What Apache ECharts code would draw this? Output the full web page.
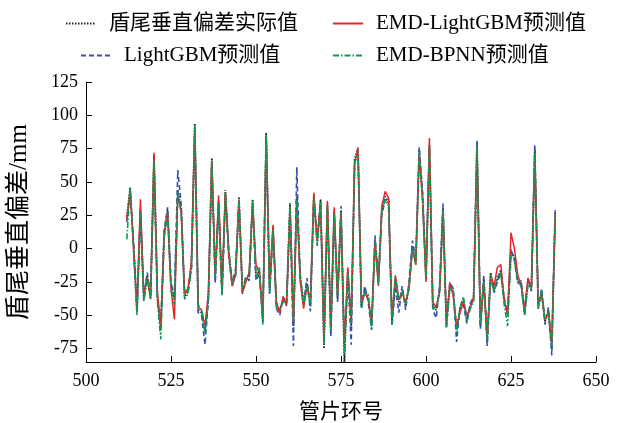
<!DOCTYPE html>
<html><head><meta charset="utf-8">
<script src="https://cdn.jsdelivr.net/npm/echarts@6/dist/echarts.min.js"></script>
<style>html,body{margin:0;padding:0;background:#fff}#c{width:626px;height:423px}</style>
</head><body><div id="c"></div>
<script>
const startRing = 512;
const actual = [
24, 46, 0, -48, 30, -38, -20, -36, 70, -36,
-60, 12, 29, -28, -38, 44, 30, -36, -32, -13,
94, -46, -48, -62, -36, 68, -23, 36, -33, 44,
-3, -25, -18, 39, -31, -23, -21, 37, -21, -16,
-55, 87, -31, 16, -43, -46, -38, -40, 34, -58,
39, -21, -40, -26, -43, 40, 4, 37, -75, 34,
-63, 29, -38, 29, -85, -16, -58, 67, 75, -43,
-31, -36, -58, 7, -25, 29, 39, 34, -55, -23,
-40, -31, -43, -28, 2, -10, 74, 39, -23, 78,
-43, -46, -31, 31, -57, -28, -33, -61, -46, -38,
-53, -43, -38, 79, -58, -23, -70, -18, -31, -23,
-16, -40, -48, -3, -6, -23, -26, -48, -25, -28,
74, -43, -33, -55, -46, -75, 27];
const emdLgbm = [
22, 44, 2, -45, 37, -35, -22, -38, 72, -33,
-58, 10, 27, -30, -53, 40, 28, -34, -30, -10,
92, -44, -46, -58, -33, 66, -20, 40, -30, 42,
-5, -28, -20, 36, -33, -25, -18, 34, -12, -18,
-52, 85, -28, 18, -40, -48, -36, -42, 31, -55,
36, -24, -45, -28, -40, 42, 6, 35, -70, 36,
-60, 31, -35, 27, -72, -14, -55, 64, 76, -40,
-33, -38, -55, 5, -28, 32, 43, 38, -52, -20,
-38, -33, -40, -30, 0, -12, 71, 36, -25, 83,
-40, -44, -33, 28, -55, -26, -35, -58, -48, -40,
-50, -45, -36, 76, -56, -26, -66, -20, -28, -14,
-12, -38, -50, 12, 0, -20, -28, -45, -22, -30,
71, -40, -35, -53, -48, -70, 25];
const lgbm = [
20, 42, 5, -45, 28, -36, -18, -35, 65, -38,
-56, 14, 31, -26, -35, 59, 33, -34, -30, -15,
90, -48, -50, -72, -38, 65, -26, 33, -35, 41,
-6, -28, -15, 36, -34, -21, -24, 34, -24, -19,
-52, 84, -34, 13, -45, -50, -36, -43, 31, -73,
61, -24, -42, -22, -47, 37, 7, 34, -66, 31,
-66, 26, -40, 32, -78, -19, -72, 64, 72, -45,
-28, -40, -61, 10, -22, 26, 36, 38, -58, -28,
-48, -28, -46, -25, 6, -8, 76, 42, -20, 75,
-46, -52, -28, 34, -60, -25, -30, -70, -44, -42,
-56, -41, -36, 81, -60, -20, -73, -21, -33, -25,
-18, -37, -50, 0, -9, -26, -24, -50, -22, -32,
78, -45, -30, -57, -44, -80, 30];
const emdBpnn = [
7, 46, -2, -50, 28, -40, -22, -38, 66, -40,
-68, 8, 27, -31, -42, 42, 27, -38, -34, -16,
93, -42, -46, -64, -38, 66, -21, 34, -35, 42,
-1, -26, -20, 37, -30, -22, -19, 36, -22, -14,
-57, 85, -33, 14, -44, -45, -40, -38, 32, -55,
37, -19, -42, -28, -41, 38, 2, 35, -72, 32,
-61, 27, -36, 27, -80, -18, -56, 65, 73, -45,
-33, -34, -60, 5, -27, 27, 37, 32, -57, -21,
-38, -33, -41, -30, 0, -12, 72, 37, -21, 76,
-45, -44, -33, 29, -59, -30, -31, -63, -44, -36,
-55, -45, -40, 77, -56, -25, -68, -20, -33, -21,
-18, -42, -58, -5, -8, -25, -28, -50, -27, -30,
72, -45, -31, -53, -48, -73, 24];
const yTicks = [-75, -50, -25, 0, 25, 50, 75, 100, 125];
const names = ['盾尾垂直偏差实际值', 'LightGBM预测值', 'EMD-LightGBM预测值', 'EMD-BPNN预测值'];

const rings = actual.map((_, i) => startRing + i);
const pairs = arr => arr.map((v, i) => [rings[i], v]);
const font = "'Liberation Serif','Times New Roman','Noto Sans CJK SC',serif";

const chart = echarts.init(document.getElementById('c'));
const legendBase = {orient: 'horizontal', itemWidth: 30, itemHeight: 10, itemGap: 0,
  itemStyle: {opacity: 0},
  textStyle: {fontFamily: font, fontSize: 21, color: '#000', padding: [0, 0, 0, 8]}};
chart.setOption({
  animation: false,
  backgroundColor: '#fff',
  grid: {left: 86, right: 30, top: 82, bottom: 61, outerBoundsMode: 'none', containLabel: false},
  legend: [
    Object.assign({}, legendBase, {data: [names[0]], left: 60, top: 8}),
    Object.assign({}, legendBase, {data: [names[2]], left: 327, top: 8}),
    Object.assign({}, legendBase, {data: [names[1]], left: 75, top: 40}),
    Object.assign({}, legendBase, {data: [names[3]], left: 327, top: 40})
  ],
  xAxis: {
    type: 'value', min: 500, max: 650, interval: 25,
    name: '管片环号', nameLocation: 'middle', nameGap: 40,
    nameTextStyle: {fontFamily: font, fontSize: 21, color: '#000'},
    axisLine: {onZero: false, lineStyle: {color: '#000', width: 1}},
    axisTick: {inside: true, length: 6, lineStyle: {color: '#000'}},
    axisLabel: {fontFamily: font, fontSize: 18, color: '#000', margin: 10},
    splitLine: {show: false}
  },
  yAxis: {
    type: 'value', min: -85, max: 125,
    name: '盾尾垂直偏差/mm', nameLocation: 'middle', nameGap: 54,
    nameTextStyle: {fontFamily: font, fontSize: 25, color: '#000'},
    axisLine: {show: true, onZero: false, lineStyle: {color: '#000', width: 1}},
    axisTick: {inside: true, length: 6, customValues: yTicks, lineStyle: {color: '#000'}},
    axisLabel: {fontFamily: font, fontSize: 18, color: '#000', margin: 8, customValues: yTicks},
    splitLine: {show: false}
  },
  series: [
    {name: names[0], type: 'line', data: pairs(actual), symbol: 'none', z: 2,
     lineStyle: {color: '#222', width: 1.8, type: [1.5, 1.5]}, itemStyle: {color: '#222'}},
    {name: names[1], type: 'line', data: pairs(lgbm), symbol: 'none', z: 3,
     lineStyle: {color: '#2d52b0', width: 1.6, type: [5, 3]}, itemStyle: {color: '#2d52b0'}},
    {name: names[2], type: 'line', data: pairs(emdLgbm), symbol: 'none', z: 4,
     lineStyle: {color: '#e3262b', width: 1.5, type: 'solid'}, itemStyle: {color: '#e3262b'}},
    {name: names[3], type: 'line', data: pairs(emdBpnn), symbol: 'none', z: 5,
     lineStyle: {color: '#0c9a50', width: 1.6, type: [6, 2, 1.5, 2]}, itemStyle: {color: '#0c9a50'}}
  ]
});
</script></body></html>
